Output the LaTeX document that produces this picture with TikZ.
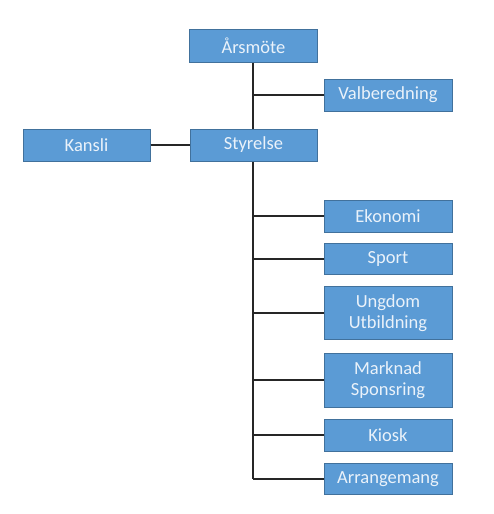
\documentclass[tikz,border=0pt]{standalone}
\usepackage{fontspec}
\setmainfont{Carlito}
\definecolor{boxfill}{HTML}{5B9BD5}
\definecolor{boxline}{HTML}{41719C}
\definecolor{boxtext}{HTML}{EAF2FA}
\begin{document}
\begin{tikzpicture}[x=1pt,y=-1pt,
  orgbox/.style={draw=boxline,fill=boxfill,line width=1pt,text=boxtext,
    font=\fontsize{18.5}{21}\selectfont,align=center,inner sep=0pt},
  conn/.style={draw=black!85,line width=1.8pt}]
\fill[white] (0,0) rectangle (494,514);
\useasboundingbox (0,0) rectangle (494,514);
\node[orgbox,minimum width=128pt,minimum height=33pt] (arsmote) at (253.5,45.5) {Årsmöte};
\node[orgbox,minimum width=128pt,minimum height=32pt] (valb) at (388,95) {Valberedning};
\node[orgbox,minimum width=127pt,minimum height=32pt] (kansli) at (86.5,145) {Kansli};
\node[orgbox,minimum width=127pt,minimum height=32pt] (styr) at (253.5,145) {Styrelse};
\node[orgbox,minimum width=128pt,minimum height=32pt] (ekon) at (388,216) {Ekonomi};
\node[orgbox,minimum width=128pt,minimum height=31pt] (sport) at (388,259) {Sport};
\node[orgbox,minimum width=128pt,minimum height=53pt] (ungd) at (388,313) {Ungdom\\Utbildning};
\node[orgbox,minimum width=128pt,minimum height=54pt] (mark) at (388,380) {Marknad\\Sponsring};
\node[orgbox,minimum width=128pt,minimum height=32pt] (kiosk) at (388,435) {Kiosk};
\node[orgbox,minimum width=128pt,minimum height=31pt] (arr) at (388,479) {Arrangemang};
\coordinate (spine) at (253,0);
\coordinate (bot) at (253,479);
\draw[conn] (arsmote.south -| spine) -- (styr.north -| spine);
\draw[conn] (valb.west -| spine) -- (valb.west);
\draw[conn] (kansli.east) -- (styr.west);
\draw[conn] (styr.south -| spine) -- (bot);
\draw[conn] (ekon.west -| spine) -- (ekon.west);
\draw[conn] (sport.west -| spine) -- (sport.west);
\draw[conn] (ungd.west -| spine) -- (ungd.west);
\draw[conn] (mark.west -| spine) -- (mark.west);
\draw[conn] (kiosk.west -| spine) -- (kiosk.west);
\draw[conn] (bot) -- (arr.west);
\end{tikzpicture}
\end{document}
